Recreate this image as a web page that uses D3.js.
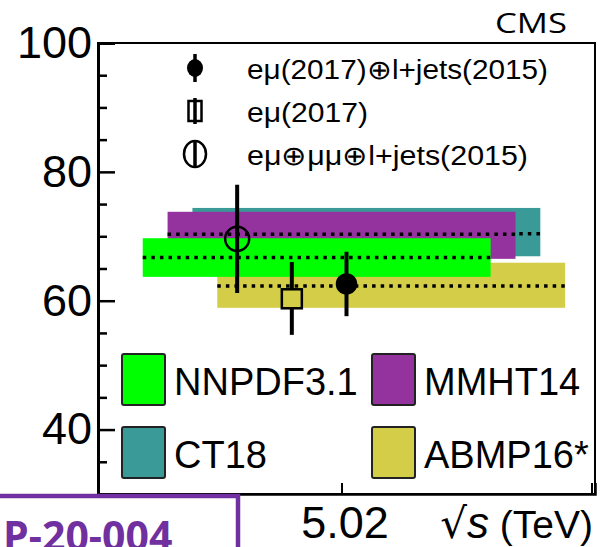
<!DOCTYPE html>
<html>
<head>
<meta charset="utf-8">
<script src="https://cdn.jsdelivr.net/npm/d3@7/dist/d3.min.js"></script>
<style>
    body { margin: 0; background: #fff; }
    svg { display: block; }
</style>
</head>
<body>
<div id="chart"></div>
<script>
// PDF predictions, in draw order (green goes on top)
const pdfNames = ['CT18', 'MMHT14', 'ABMP16*', 'NNPDF3.1'];
const pdfCentral = [70.4, 70.3, 62.3, 66.7];
const pdfLow = [66.9, 66.5, 58.9, 63.7];
const pdfHigh = [74.4, 73.8, 65.9, 69.7];
const pdfSqrtS = [5.07, 5.02, 5.12, 4.97];   // band centres, spread apart around 5.02
const pdfColors = ['#3a9a98', '#94329e', '#d3cd48', '#00ff00'];

// measurements
const measNames = ['eμ(2017)⊕l+jets(2015)', 'eμ(2017)', 'eμ⊕μμ⊕l+jets(2015)'];
const measValue = [62.6, 60.3, 69.6];
const measErrUp = [5.0, 5.7, 8.4];
const measErrDown = [5.0, 5.6, 8.4];
const measSqrtS = [5.03, 4.92, 4.81];
const measMarker = ['filled', 'square', 'open'];

// axes
const yMajor = [40, 60, 80, 100];
const yMinor = [35, 45, 50, 55, 65, 70, 75, 85, 90, 95];
const xTicks = [5.02];

const width = 600, height = 547;
const frame = {left: 98, right: 595, top: 43, bottom: 494};
const bandHalf = 0.35;
const legTextWidth = [301, 121, 281];

const svg = d3.select('#chart').append('svg')
    .attr('width', width).attr('height', height);

const x = d3.scaleLinear().domain([4.53, 5.53]).range([frame.left, frame.right]);
const y = d3.scaleLinear().domain([30, 100]).range([frame.bottom, frame.top]);

// bands
const bands = pdfNames.map((n, i) => ({
    name: n, c: pdfCentral[i], lo: pdfLow[i], hi: pdfHigh[i], s: pdfSqrtS[i], col: pdfColors[i]
}));
const bandG = svg.append('g');
bands.forEach((b) => {
    bandG.append('rect')
        .attr('x', x(b.s - bandHalf))
        .attr('y', y(b.hi))
        .attr('width', x(b.s + bandHalf) - x(b.s - bandHalf))
        .attr('height', y(b.lo) - y(b.hi))
        .attr('fill', b.col);
    bandG.append('line')
        .attr('x1', x(b.s - bandHalf)).attr('x2', x(b.s + bandHalf))
        .attr('y1', y(b.c)).attr('y2', y(b.c))
        .attr('stroke', '#000')
        .attr('stroke-width', 3.5)
        .attr('stroke-dasharray', '3.5,5.1');
});

// measurements
const meas = measNames.map((n, i) => ({
    name: n, v: measValue[i], up: measErrUp[i], dn: measErrDown[i], s: measSqrtS[i], m: measMarker[i]
}));
const pts = svg.append('g');
meas.forEach((d) => {
    const cx = x(d.s), cy = y(d.v);
    if (d.m === 'square') {
        pts.append('line').attr('x1', cx).attr('x2', cx)
            .attr('y1', y(d.v + d.up)).attr('y2', cy - 9.5)
            .attr('stroke', '#000').attr('stroke-width', 4);
        pts.append('line').attr('x1', cx).attr('x2', cx)
            .attr('y1', cy + 9.5).attr('y2', y(d.v - d.dn))
            .attr('stroke', '#000').attr('stroke-width', 4);
        pts.append('rect').attr('x', cx - 10).attr('y', cy - 9.5)
            .attr('width', 20).attr('height', 19)
            .attr('fill', 'none').attr('stroke', '#000').attr('stroke-width', 2.5);
    } else {
        pts.append('line').attr('x1', cx).attr('x2', cx)
            .attr('y1', y(d.v + d.up)).attr('y2', y(d.v - d.dn))
            .attr('stroke', '#000').attr('stroke-width', 4);
        pts.append('circle').attr('cx', cx).attr('cy', cy)
            .attr('r', d.m === 'filled' ? 9.5 : 12)
            .attr('fill', d.m === 'filled' ? '#000' : 'none')
            .attr('stroke', '#000').attr('stroke-width', 2.5);
    }
});

// frame
svg.append('rect')
    .attr('x', frame.left).attr('y', frame.top)
    .attr('width', frame.right - frame.left).attr('height', frame.bottom - frame.top)
    .attr('fill', 'none').attr('stroke', '#000').attr('stroke-width', 2);

// y axis
const yAxis = svg.append('g')
    .attr('transform', `translate(${frame.left},0)`)
    .call(d3.axisLeft(y).tickValues(yMajor).tickSize(-17).tickPadding(6));
yAxis.select('.domain').attr('stroke-width', 3);
yAxis.selectAll('.tick line').attr('stroke-width', 2.5);
yAxis.selectAll('text')
    .attr('font-family', '"Liberation Sans", Arial, sans-serif')
    .attr('font-size', 45)
    .attr('fill', '#000');
const yMinorAxis = svg.append('g')
    .attr('transform', `translate(${frame.left},0)`)
    .call(d3.axisLeft(y).tickValues(yMinor).tickSize(-9).tickFormat(''));
yMinorAxis.select('.domain').remove();
yMinorAxis.selectAll('.tick line').attr('stroke-width', 2.5);

// x axis
const xAxis = svg.append('g')
    .attr('transform', `translate(0,${frame.bottom})`)
    .call(d3.axisBottom(x).tickValues(xTicks).tickSize(-11).tickPadding(12).tickFormat(d3.format('.2f')));
xAxis.select('.domain').attr('stroke-width', 2.5);
xAxis.selectAll('.tick line').attr('stroke-width', 2);
xAxis.selectAll('text')
    .attr('dx', 3)
    .attr('font-family', '"Liberation Sans", Arial, sans-serif')
    .attr('font-size', 45)
    .attr('fill', '#000');
svg.append('line')
    .attr('x1', x.range()[1] - 3).attr('x2', x.range()[1] - 3)
    .attr('y1', frame.bottom).attr('y2', frame.bottom - 11)
    .attr('stroke', '#000').attr('stroke-width', 2);

const xTitle = svg.append('text')
    .attr('x', 593).attr('y', 538)
    .attr('text-anchor', 'end')
    .attr('font-family', '"Liberation Sans", Arial, sans-serif')
    .attr('font-size', 39);
xTitle.append('tspan').attr('font-family', '"DejaVu Sans", sans-serif').attr('font-size', 42).text('√');
xTitle.append('tspan').attr('font-style', 'italic').attr('font-size', 44).text('s');
xTitle.append('tspan').text(' (TeV)');

// top legend: measurements
const legTop = svg.append('g');
meas.forEach((d, i) => {
    const ly = 68 + i * 43;
    const lx = 195;
    if (d.m === 'square') {
        legTop.append('line').attr('x1', lx).attr('x2', lx).attr('y1', ly - 13).attr('y2', ly + 13)
            .attr('stroke', '#000').attr('stroke-width', 3.5);
        legTop.append('rect').attr('x', lx - 6.5).attr('y', ly - 10).attr('width', 13).attr('height', 20)
            .attr('fill', 'none').attr('stroke', '#000').attr('stroke-width', 2.5);
    } else if (d.m === 'filled') {
        legTop.append('line').attr('x1', lx).attr('x2', lx).attr('y1', ly - 14).attr('y2', ly + 14)
            .attr('stroke', '#000').attr('stroke-width', 3.5);
        legTop.append('ellipse').attr('cx', lx).attr('cy', ly).attr('rx', 8).attr('ry', 9)
            .attr('fill', '#000');
    } else {
        legTop.append('line').attr('x1', lx).attr('x2', lx).attr('y1', ly - 14).attr('y2', ly + 14)
            .attr('stroke', '#000').attr('stroke-width', 3.5);
        legTop.append('ellipse').attr('cx', lx).attr('cy', ly).attr('rx', 11).attr('ry', 13)
            .attr('fill', 'none').attr('stroke', '#000').attr('stroke-width', 2.5);
    }
    legTop.append('text')
        .attr('x', 247).attr('y', ly + 11)
        .attr('font-family', '"Liberation Sans", Arial, sans-serif')
        .attr('font-size', 27)
        .attr('textLength', legTextWidth[i]).attr('lengthAdjust', 'spacingAndGlyphs')
        .text(d.name);
});

// bottom legend: PDFs
const legOrder = ['NNPDF3.1', 'MMHT14', 'CT18', 'ABMP16*'];
const legBot = svg.append('g');
legOrder.forEach((n, i) => {
    const b = bands.find((e) => e.name === n);
    const col = i % 2, row = Math.floor(i / 2);
    const bx = col === 0 ? 122 : 372;
    const by = 354 + row * 73;
    legBot.append('rect')
        .attr('x', bx).attr('y', by).attr('width', 43).attr('height', 51)
        .attr('rx', 2)
        .attr('fill', b.col).attr('stroke', '#222').attr('stroke-width', 2);
    legBot.append('text')
        .attr('x', bx + 52).attr('y', by + 41)
        .attr('font-family', '"Liberation Sans", Arial, sans-serif')
        .attr('font-size', 38)
        .text(n);
});

// CMS label
svg.append('text')
    .attr('x', 495).attr('y', 33)
    .attr('font-family', '"Open Sans", sans-serif')
    .attr('font-size', 28)
    .attr('textLength', 72).attr('lengthAdjust', 'spacingAndGlyphs')
    .text('CMS');

// reference box, bottom left
svg.append('rect')
    .attr('x', -10).attr('y', 496)
    .attr('width', 248).attr('height', 80)
    .attr('fill', '#fff').attr('stroke', '#7030a0').attr('stroke-width', 4.5);
svg.append('text')
    .attr('x', 3).attr('y', 551)
    .attr('font-family', '"Open Sans", sans-serif')
    .attr('font-weight', 'bold')
    .attr('font-size', 41)
    .attr('fill', '#7030a0')
    .text('P-20-004');
</script>
</body>
</html>
